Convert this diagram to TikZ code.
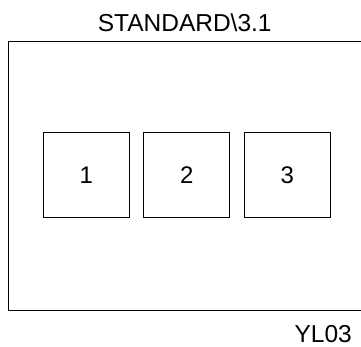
\documentclass[tikz,border=0pt]{standalone}
\usepackage{fontspec}
\setmainfont{Liberation Sans}
\usetikzlibrary{positioning}
\begin{document}
\begin{tikzpicture}[x=1pt,y=-1pt,
    slotBox/.style={draw,line width=1pt,minimum width=86pt,minimum height=85pt,inner sep=0pt,font=\fontsize{24}{28}\selectfont},
    capText/.style={inner sep=0pt,font=\fontsize{24.5}{29}\selectfont},
    node distance=13.5pt,
]
\useasboundingbox (0,0) rectangle (361,347);
% outer frame, right side runs off the page
\node[draw,line width=1pt,minimum width=362pt,minimum height=269pt,inner sep=0pt,anchor=north west] (frame) at (8.3,40.7) {};
\node[capText,anchor=base] (title) at (184.7,31.5) {STANDARD\textbackslash 3.1};
% the three slots
\node[slotBox] (slotA) at (86.2,175.2) {1};
\node[slotBox,right=of slotA] (slotB) {2};
\node[slotBox,right=of slotB] (slotC) {3};
\node[capText,anchor=base east] (tag) at (352,342.7) {YL03};
\end{tikzpicture}
\end{document}
